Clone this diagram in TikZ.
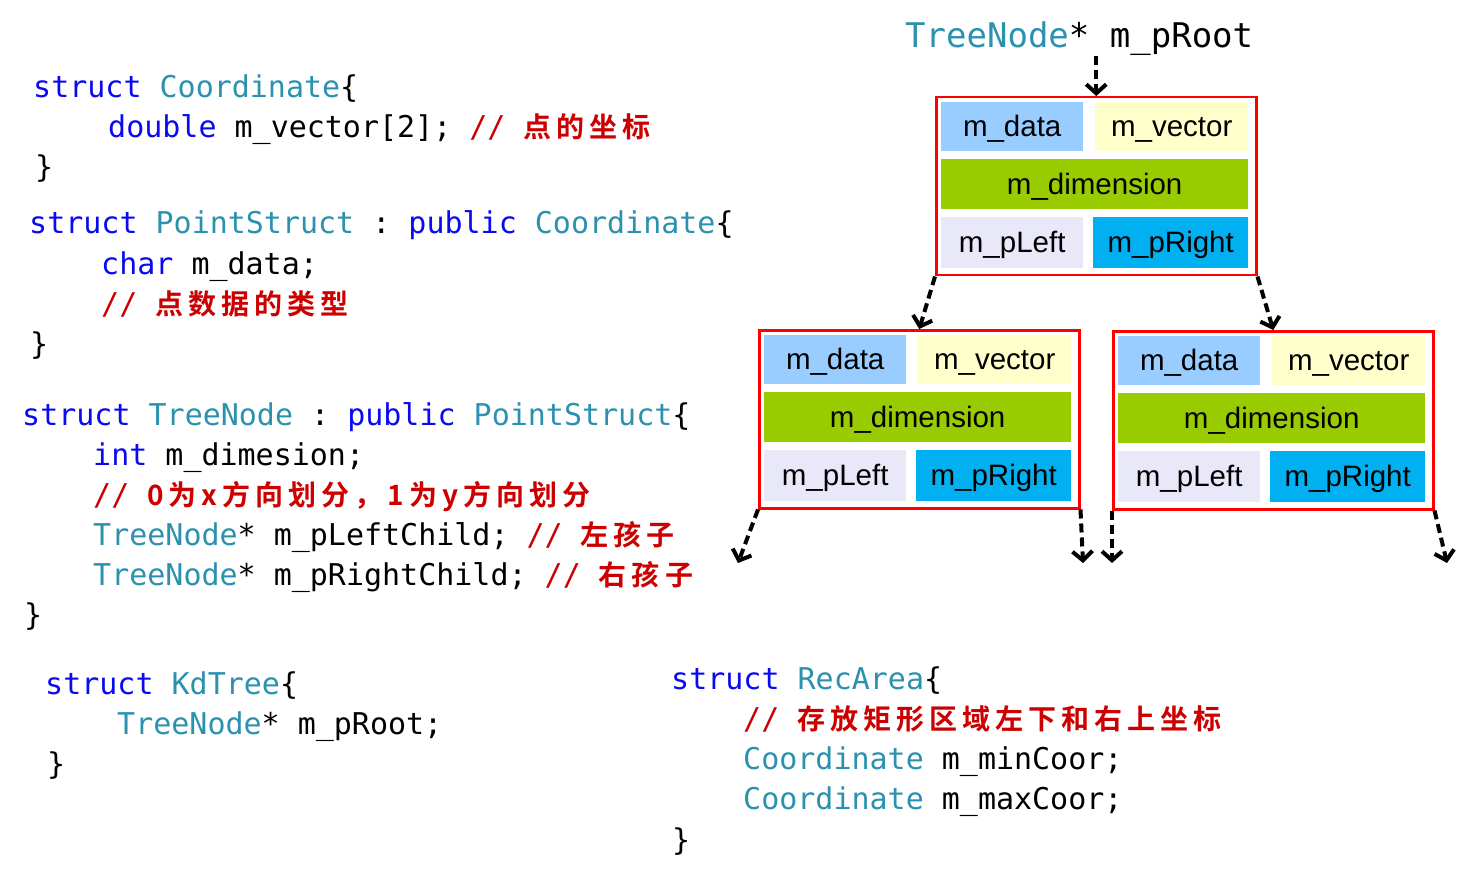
\documentclass[tikz,border=0pt]{standalone}
\usepackage{fontspec}
\setmonofont{DejaVu Sans Mono}
\setsansfont{Liberation Sans}
\newfontfamily\cjk{Noto Sans CJK SC}[BoldFont={Noto Sans CJK SC Bold},LetterSpace=18]
\usetikzlibrary{arrows.meta}

\definecolor{kwblue}{HTML}{0A0AF0}
\definecolor{typteal}{HTML}{2B91AF}
\definecolor{comred}{HTML}{CC0000}
\definecolor{dataBlue}{HTML}{99CCFF}
\definecolor{vecYellow}{HTML}{FFFFCC}
\definecolor{dimGreen}{HTML}{99CC00}
\definecolor{leftLav}{HTML}{E8E8F8}
\definecolor{rightCyan}{HTML}{00B0F0}

\newcommand{\kwd}[1]{\textcolor{kwblue}{#1}}
\newcommand{\tyn}[1]{\textcolor{typteal}{#1}}
\newcommand{\cmt}[1]{\textcolor{comred}{//~{\cjk\bfseries\fontsize{28}{32}\selectfont #1}}}

\begin{document}
\begin{tikzpicture}[
        x=1pt, y=-1pt,
        code/.style={anchor=base west, inner sep=0, font=\fontsize{30}{36}\selectfont\ttfamily},
        cell/.style={anchor=north west, inner sep=0, minimum height=49pt, text height=24pt, text depth=4pt, font=\fontsize{29.5}{34}\selectfont\sffamily},
        tnode/.style={anchor=north west, draw=red, line width=2.5pt, minimum width=320pt, minimum height=178pt, inner sep=0},
        link/.style={line width=4pt, dash pattern=on 9pt off 5pt, -{Straight Barb[length=9pt,width=20pt]}}
    ]
    \useasboundingbox (0,0) rectangle (1469,877);

    % Codigo
    \node[code] (c1) at (33,98) {\kwd{struct} \tyn{Coordinate}\{};
    \node[code] (c2) at (108,138) {\kwd{double} m\_vector[2]; \cmt{点的坐标}};
    \node[code] (c3) at (35,178) {\}};
    \node[code] (p1) at (29,234) {\kwd{struct} \tyn{PointStruct} : \kwd{public} \tyn{Coordinate}\{};
    \node[code] (p2) at (101,274) {\kwd{char} m\_data;};
    \node[code] (p3) at (101,314) {\cmt{点数据的类型}};
    \node[code] (p4) at (30,354) {\}};
    \node[code] (t1) at (22,425) {\kwd{struct} \tyn{TreeNode} : \kwd{public} \tyn{PointStruct}\{};
    \node[code] (t2) at (93,465) {\kwd{int} m\_dimesion;};
    \node[code] (t3) at (93,505) {\cmt{0为x方向划分，1为y方向划分}};
    \node[code] (t4) at (93,545) {\tyn{TreeNode}* m\_pLeftChild; \cmt{左孩子}};
    \node[code] (t5) at (93,585) {\tyn{TreeNode}* m\_pRightChild; \cmt{右孩子}};
    \node[code] (t6) at (24,625) {\}};
    \node[code] (k1) at (45,694) {\kwd{struct} \tyn{KdTree}\{};
    \node[code] (k2) at (117,734) {\tyn{TreeNode}* m\_pRoot;};
    \node[code] (k3) at (47,774) {\}};
    \node[code] (r1) at (671,689) {\kwd{struct} \tyn{RecArea}\{};
    \node[code] (r2) at (743,729) {\cmt{存放矩形区域左下和右上坐标}};
    \node[code] (r3) at (743,769) {\tyn{Coordinate} m\_minCoor;};
    \node[code] (r4) at (743,809) {\tyn{Coordinate} m\_maxCoor;};
    \node[code] (r5) at (672,850) {\}};

    % Nodos del arbol
    \node[code, font=\fontsize{34}{40}\selectfont\ttfamily] (proot) at (905,48) {\tyn{TreeNode}* m\_pRoot};
    \foreach \n/\x/\y in {root/935/96, left/758/329, right/1112/330} {
        \node[tnode] (\n) at (\x,\y) {};
        \node[cell, fill=dataBlue, minimum width=142pt] (\n-data) at (\x+6,\y+6) {m\_data};
        \node[cell, fill=vecYellow, minimum width=153pt] (\n-vector) at (\x+160,\y+6) {m\_vector};
        \node[cell, fill=dimGreen, minimum width=307pt, minimum height=50pt] (\n-dim) at (\x+6,\y+63) {m\_dimension};
        \node[cell, fill=leftLav, minimum width=142pt, minimum height=51pt] (\n-pleft) at (\x+6,\y+121) {m\_pLeft};
        \node[cell, fill=rightCyan, minimum width=155pt, minimum height=51pt] (\n-pright) at (\x+158,\y+121) {m\_pRight};
    }

    % Punteros
    \coordinate (leftL) at (738,563);
    \coordinate (leftR) at (1083,563);
    \coordinate (rightL) at (1112,563);
    \coordinate (rightR) at (1447,563);
    \draw[link] (proot.south -| root.north) -- (root.north);
    \draw[link] (root.south west) -- (left.north);
    \draw[link] (root.south east) -- (right.north);
    \draw[link] (left.south west) -- (leftL);
    \draw[link] (left.south east) -- (leftR);
    \draw[link] (right.south west) -- (rightL);
    \draw[link] (right.south east) -- (rightR);
\end{tikzpicture}
\end{document}
